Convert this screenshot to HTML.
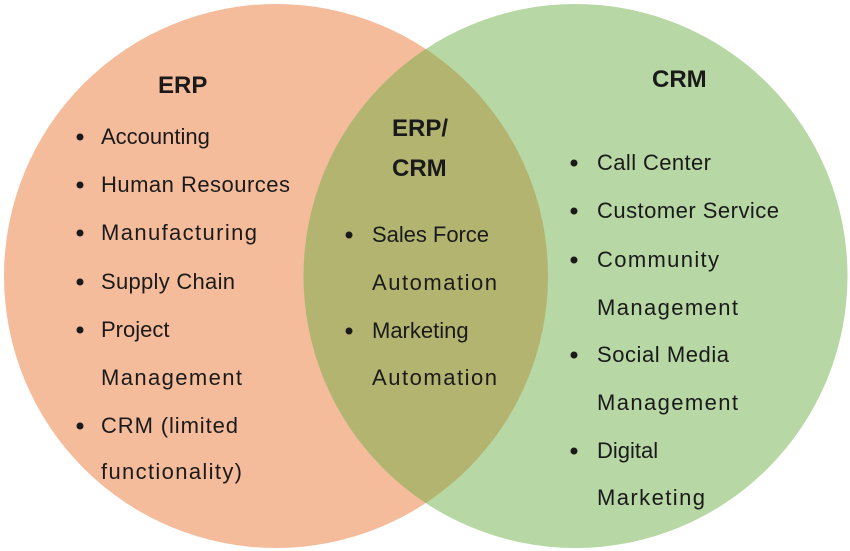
<!DOCTYPE html>
<html><head><meta charset="utf-8"><style>
html,body{margin:0;padding:0;background:#fff}
svg{display:block}
text{font-family:"Liberation Sans",sans-serif;font-size:22px;fill:#1a1a1a}
.h{font-weight:bold;font-size:24px}
</style></head><body>
<svg width="850" height="551" viewBox="0 0 850 551">
<defs><clipPath id="lc"><circle cx="276" cy="276" r="272"/></clipPath></defs>
<circle cx="276" cy="276" r="272" fill="#f5bc9c"/>
<circle cx="575.5" cy="276" r="272" fill="#b7d7a4"/>
<circle cx="575.5" cy="276" r="272" fill="#b3b470" clip-path="url(#lc)"/>
<g fill="#1a1a1a">
<circle cx="80" cy="137" r="3.5"/><circle cx="80" cy="185" r="3.5"/><circle cx="80" cy="233" r="3.5"/><circle cx="80" cy="282" r="3.5"/><circle cx="80" cy="330" r="3.5"/><circle cx="80" cy="426" r="3.5"/>
<circle cx="349" cy="235" r="3.5"/><circle cx="349" cy="331" r="3.5"/>
<circle cx="574" cy="163" r="3.5"/><circle cx="574" cy="211" r="3.5"/><circle cx="574" cy="260" r="3.5"/><circle cx="574" cy="355" r="3.5"/><circle cx="574" cy="451" r="3.5"/>
</g>
<text class="h" x="158" y="93">ERP</text>
<text x="101" y="144">Accounting</text>
<text x="101" y="192" textLength="189">Human Resources</text>
<text x="101" y="240" textLength="156">Manufacturing</text>
<text x="101" y="289" textLength="134">Supply Chain</text>
<text x="101" y="337">Project</text>
<text x="101" y="385" textLength="141">Management</text>
<text x="101" y="433" textLength="137">CRM (limited</text>
<text x="101" y="479" textLength="141">functionality)</text>
<text class="h" x="392" y="136">ERP/</text>
<text class="h" x="392" y="176">CRM</text>
<text x="372" y="242" textLength="117">Sales Force</text>
<text x="372" y="290" textLength="125">Automation</text>
<text x="372" y="338">Marketing</text>
<text x="372" y="385" textLength="125">Automation</text>
<text class="h" x="652" y="87">CRM</text>
<text x="597" y="170" textLength="114">Call Center</text>
<text x="597" y="218" textLength="182">Customer Service</text>
<text x="597" y="267" textLength="122">Community</text>
<text x="597" y="315" textLength="141">Management</text>
<text x="597" y="362" textLength="132">Social Media</text>
<text x="597" y="410" textLength="141">Management</text>
<text x="597" y="458">Digital</text>
<text x="597" y="505" textLength="108">Marketing</text>
</svg>
</body></html>
